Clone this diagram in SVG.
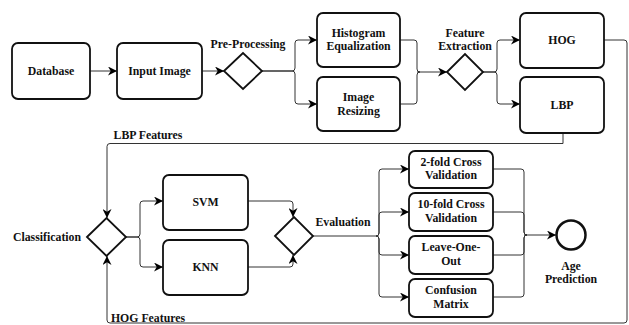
<svg xmlns="http://www.w3.org/2000/svg" width="629" height="325" viewBox="0 0 629 325">
<defs>
<marker id="arr" viewBox="0 0 10 10" refX="10" refY="5" markerWidth="9" markerHeight="9" markerUnits="userSpaceOnUse" orient="auto">
<path d="M0,0 L10,5 L0,10 L3,5 z" fill="#000"/>
</marker>
<style>
.box{fill:#fff;stroke:#111;stroke-width:1.8}
.dia{fill:#fff;stroke:#111;stroke-width:1.8}
text{font-family:'Liberation Serif','Times New Roman',serif;font-weight:bold;font-size:11.8px;fill:#111;text-anchor:middle}
.c{fill:none;stroke:#333;stroke-width:1;stroke-linejoin:round}
.a{marker-end:url(#arr)}
</style>
</defs>
<rect width="629" height="325" fill="#fff"/>
<g id="connectors">
<path class="c a" d="M90,71 H117"/>
<path class="c a" d="M202,71 H224"/>
<path class="c a" d="M262,71 H292 Q295,71 295,68 V43 Q295,40 298,40 H317"/>
<path class="c a" d="M262,71 H292 Q295,71 295,74 V101 Q295,104 298,104 H317"/>
<path class="c" d="M400,40 H414 Q417,40 417,43 V69 Q417,72 420,72"/>
<path class="c" d="M400,104 H414 Q417,104 417,101 V75 Q417,72 420,72"/>
<path class="c a" d="M417,72 H447"/>
<path class="c a" d="M483,72 H494 Q497,72 497,69 V43 Q497,40 500,40 H520"/>
<path class="c a" d="M483,72 H494 Q497,72 497,75 V101 Q497,104 500,104 H520"/>
<path class="c a" d="M604,40 H624 Q627,40 627,43 V320 Q627,323 624,323 H110 Q107,323 107,320 V256"/>
<path class="c a" d="M563,133 V143.5 H110 Q107,143.5 107,146.5 V218"/>
<path class="c a" d="M126,237 H137 Q140,237 140,234 V204 Q140,201 143,201 H163"/>
<path class="c a" d="M126,237 H137 Q140,237 140,240 V264 Q140,267 143,267 H163"/>
<path class="c a" d="M248,201 H290 Q293,201 293,204 V217"/>
<path class="c a" d="M248,267 H290 Q293,267 293,264 V255"/>
<path class="c" d="M313,236 H376"/>
<path class="c a" d="M376,236 Q379,236 379,233 V172 Q379,169 382,169 H409"/>
<path class="c a" d="M376,236 Q379,236 379,233 V215 Q379,212 382,212 H409"/>
<path class="c a" d="M376,236 Q379,236 379,239 V252 Q379,255 382,255 H409"/>
<path class="c a" d="M376,236 Q379,236 379,239 V294 Q379,297 382,297 H409"/>
<path class="c" d="M493,169 H521 Q524,169 524,172 V232 Q524,235 527,235"/>
<path class="c" d="M493,212 H521 Q524,212 524,215 V232 Q524,235 527,235"/>
<path class="c" d="M493,255 H521 Q524,255 524,252 V238 Q524,235 527,235"/>
<path class="c" d="M493,297 H521 Q524,297 524,294 V238 Q524,235 527,235"/>
<path class="c a" d="M524,235 H556"/>
</g>
<g id="database"><rect class="box" x="12" y="43" width="78" height="56" rx="6"/><text x="51" y="75">Database</text></g>
<g id="input-image"><rect class="box" x="117" y="43" width="85" height="56" rx="6"/><text x="159.5" y="75">Input Image</text></g>
<g id="pre-processing"><polygon class="dia" points="224,71 243,53 262,71 243,89"/><text x="248" y="48">Pre-Processing</text></g>
<g id="histogram"><rect class="box" x="317" y="13" width="83" height="54" rx="6"/><text x="358.5" y="37">Histogram</text><text x="358.5" y="50">Equalization</text></g>
<g id="image-resizing"><rect class="box" x="317" y="77" width="83" height="54" rx="6"/><text x="358.5" y="101">Image</text><text x="358.5" y="115">Resizing</text></g>
<g id="feature-extraction"><polygon class="dia" points="447,72 465,54 483,72 465,90"/><text x="465" y="37">Feature</text><text x="465" y="50">Extraction</text></g>
<g id="hog"><rect class="box" x="520" y="13" width="84" height="55" rx="6"/><text x="562" y="44">HOG</text></g>
<g id="lbp"><rect class="box" x="520" y="77" width="84" height="56" rx="6"/><text x="562" y="109">LBP</text></g>
<g id="lbp-features"><text x="148" y="139">LBP Features</text></g>
<g id="hog-features"><text x="148" y="322">HOG Features</text></g>
<g id="classification"><polygon class="dia" points="87,237 106.5,218 126,237 106.5,256"/><text x="47" y="241">Classification</text></g>
<g id="svm"><rect class="box" x="163" y="175" width="85" height="55" rx="6"/><text x="205.5" y="206">SVM</text></g>
<g id="knn"><rect class="box" x="163" y="240" width="85" height="55" rx="6"/><text x="205.5" y="271">KNN</text></g>
<g id="evaluation"><polygon class="dia" points="275,236 294,217 313,236 294,255"/><text x="343" y="226">Evaluation</text></g>
<g id="two-fold"><rect class="box" x="409" y="151" width="84" height="37" rx="6"/><text x="451" y="166">2-fold Cross</text><text x="451" y="179">Validation</text></g>
<g id="ten-fold"><rect class="box" x="409" y="193" width="84" height="38" rx="6"/><text x="451" y="208">10-fold Cross</text><text x="451" y="222">Validation</text></g>
<g id="leave-one-out"><rect class="box" x="409" y="236" width="84" height="38" rx="6"/><text x="451" y="251">Leave-One-</text><text x="451" y="265">Out</text></g>
<g id="confusion-matrix"><rect class="box" x="409" y="279" width="84" height="38" rx="6"/><text x="451" y="294">Confusion</text><text x="451" y="308">Matrix</text></g>
<g id="age-prediction"><circle cx="571" cy="235" r="14.5" fill="#fff" stroke="#111" stroke-width="2.5"/><text x="571" y="270">Age</text><text x="571" y="283">Prediction</text></g>
</svg>
